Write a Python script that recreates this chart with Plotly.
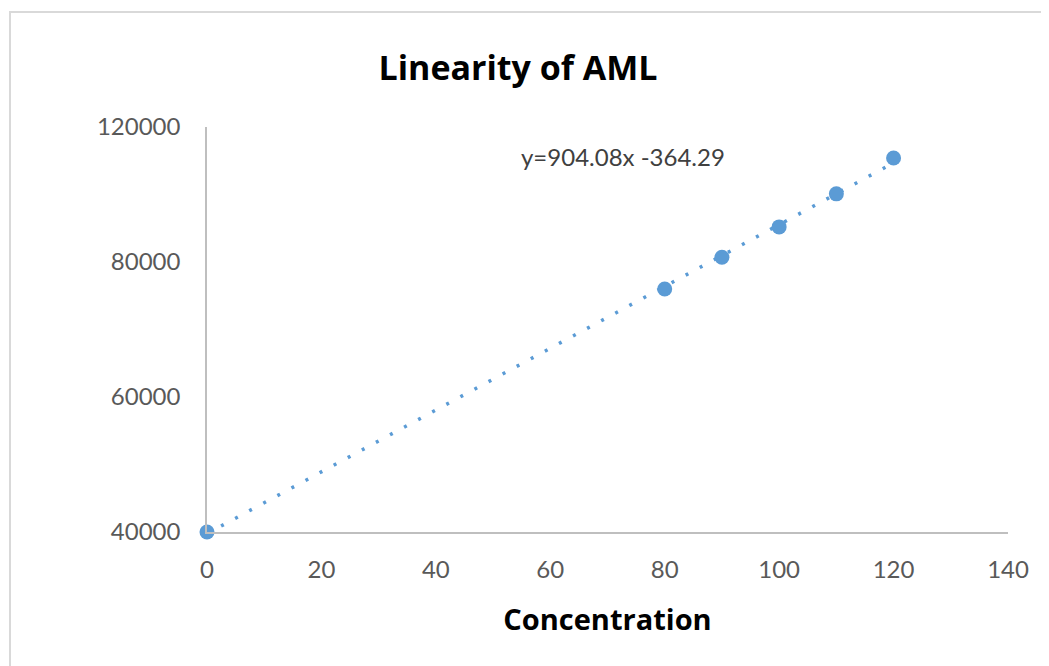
import numpy as np
import plotly.graph_objects as go

# Data
concentration = [0, 80, 90, 100, 110, 120]
response = [40000, 76000, 80700, 85200, 90100, 95400]

x_ticks = [0, 20, 40, 60, 80, 100, 120, 140]
y_tickvals = [40000, 60000, 80000, 100000]
y_ticktext = ["40000", "60000", "80000", "120000"]
equation_text = "y=904.08x -364.29"

# Linear trendline fitted to the points (as the spreadsheet does)
slope, intercept = np.polyfit(concentration, response, 1)
trend_x = [min(concentration), max(concentration)]
trend_y = [slope * v + intercept for v in trend_x]

blue = "#5B9BD5"
tick_font = dict(family="Lato, Open Sans, sans-serif", size=24, color="#595959")

W, H = 1049, 666
OFF = 8  # page body margin offset
# target screen pixel positions of the plot area
sx0, sx1, sy0, sy1 = 207, 1008, 127, 532
L = sx0 - OFF
T = sy0 - OFF
R = W - (sx1 - OFF)
B = H - (sy1 - OFF)
pw = W - L - R
ph = H - T - B


def px_to_dom_x(sx):
    return (sx - sx0) / pw


def px_to_dom_y(sy):
    return (sy1 - sy) / ph


fig = go.Figure()
fig.add_trace(go.Scatter(
    x=trend_x, y=trend_y, mode="lines",
    line=dict(color=blue, width=3.5, dash="3px,13px"),
    hoverinfo="skip", showlegend=False, cliponaxis=False,
))
fig.add_trace(go.Scatter(
    x=concentration, y=response, mode="markers",
    marker=dict(color=blue, size=15, line=dict(width=0)),
    showlegend=False, cliponaxis=False,
))

fig.update_layout(
    width=W, height=H,
    paper_bgcolor="white", plot_bgcolor="white",
    margin=dict(l=L, r=R, t=T, b=B),
    title=dict(
        text="<b>Linearity of AML</b>",
        x=(518 - OFF) / W, xanchor="center",
        y=1 - (68 - OFF) / H, yanchor="middle",
        font=dict(family="Open Sans, sans-serif", size=34, color="black"),
    ),
    xaxis=dict(
        range=[0, 140], tickvals=x_ticks, ticks="", showgrid=False,
        zeroline=False, showline=True, linecolor="#BFBFBF", linewidth=1.5,
        tickfont=tick_font, ticklabelstandoff=15,
        title=dict(text="<b>Concentration</b>", standoff=28,
                   font=dict(family="Open Sans, sans-serif", size=29, color="black")),
    ),
    yaxis=dict(
        range=[40000, 100000], tickvals=y_tickvals, ticktext=y_ticktext,
        ticks="", showgrid=False, zeroline=False, showline=True,
        linecolor="#BFBFBF", linewidth=1.5, tickfont=tick_font,
        ticklabelstandoff=20,
    ),
    annotations=[dict(
        text=equation_text, x=px_to_dom_x(623), y=px_to_dom_y(156),
        xref="paper", yref="paper", xanchor="center", yanchor="middle",
        showarrow=False,
        font=dict(family="Lato, Open Sans, sans-serif", size=24, color="#404040"),
    )],
    shapes=[dict(
        type="rect", xref="paper", yref="paper",
        x0=px_to_dom_x(10), x1=px_to_dom_x(W + 30),
        y0=px_to_dom_y(H + 30), y1=px_to_dom_y(12),
        line=dict(color="#D9D9D9", width=2), fillcolor="rgba(0,0,0,0)", layer="below",
    )],
)

fig.write_html("out.html")
